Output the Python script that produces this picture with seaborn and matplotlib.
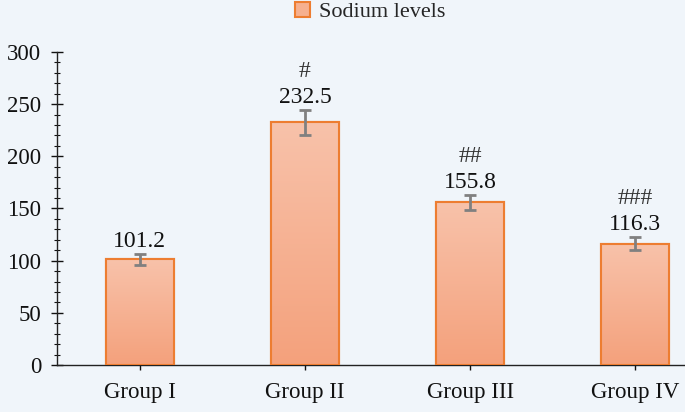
import numpy as np
import pandas as pd
import matplotlib
matplotlib.use("Agg")
import matplotlib.pyplot as plt
import seaborn as sns
from matplotlib.colors import LinearSegmentedColormap
from matplotlib.ticker import MultipleLocator

groups = ["Group I", "Group II", "Group III", "Group IV"]
sodium = [101.2, 232.5, 155.8, 116.3]
errors = [5, 12, 7, 6]
marks = ["", "#", "##", "###"]

BG = "#F0F5FA"
EDGE = "#ED7D31"

sns.set_theme(style="white")
plt.rcParams["font.family"] = ["Liberation Serif", "DejaVu Serif"]

df = pd.DataFrame({"group": groups, "sodium": sodium})

fig = plt.figure(figsize=(6.85, 4.12), dpi=100, facecolor=BG)
ax = fig.add_axes([57 / 685, 1 - 365 / 412, 661 / 685, 313 / 412])
ax.set_facecolor(BG)

sns.barplot(data=df, x="group", y="sodium", width=0.41, color="#F6B08F",
            edgecolor=EDGE, linewidth=1.5, ax=ax, zorder=2)

# vertical gradient inside each bar
grad = LinearSegmentedColormap.from_list("g", ["#F4A17C", "#F8C2AA"])
for p in ax.patches:
    x0, y0 = p.get_x(), p.get_y()
    w, h = p.get_width(), p.get_height()
    im = ax.imshow(np.linspace(0, 1, 100).reshape(-1, 1), cmap=grad, origin="lower",
                   extent=[x0, x0 + w, y0, y0 + h], aspect="auto", zorder=2.5)
    im.set_clip_path(p)
    ax.add_patch(plt.Rectangle((x0, y0), w, h, fill=False, edgecolor=EDGE,
                               linewidth=1.5, zorder=3))

xs = np.arange(len(groups))
ax.errorbar(xs, sodium, yerr=errors, fmt="none", ecolor="#808080", elinewidth=2,
            capsize=4, capthick=2, zorder=4)

for x, v, e, m in zip(xs, sodium, errors, marks):
    ax.text(x, v + e + 2, f"{v:.1f}", ha="center", va="bottom", fontsize=17,
            color="#111111")
    if m:
        ax.text(x, v + e + 27, m, ha="center", va="bottom", fontsize=17,
                color="#333333")

ax.set_xlim(-0.5, 3.5)
ax.set_ylim(0, 300)
ax.yaxis.set_major_locator(MultipleLocator(50))
ax.yaxis.set_minor_locator(MultipleLocator(10))
ax.tick_params(axis="y", which="major", direction="inout", length=9, width=1,
               labelsize=16.5, pad=7, left=True, colors="#111111")
ax.tick_params(axis="y", which="minor", direction="inout", length=5, width=0.8,
               left=True, color="#111111")
ax.tick_params(axis="x", direction="inout", length=7, width=1, labelsize=16.5, pad=9,
               bottom=True, colors="#111111")
ax.set_xlabel("")
ax.set_ylabel("")
for s in ["top", "right"]:
    ax.spines[s].set_visible(False)
for s in ["left", "bottom"]:
    ax.spines[s].set_color("#222222")
    ax.spines[s].set_linewidth(1)

handle = plt.Rectangle((0, 0), 1, 1, facecolor="#F6B08F", edgecolor=EDGE, linewidth=1.5)
fig.legend([handle], ["Sodium levels"], loc="center", bbox_to_anchor=(370 / 685, 1 - 12 / 412),
           frameon=False, fontsize=16, handlelength=0.7, handleheight=0.7,
           handletextpad=0.4)

fig.savefig("out.png", dpi=100, facecolor=BG)
